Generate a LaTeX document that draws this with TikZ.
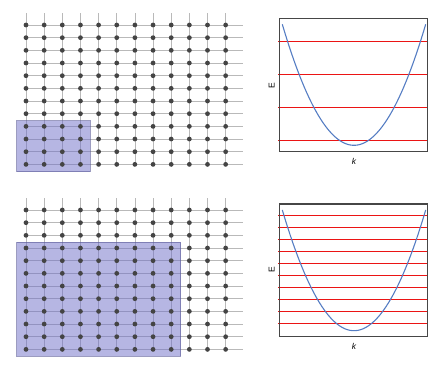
\documentclass[tikz,border=0pt]{standalone}
\usepackage{fontspec}
\setmainfont{Liberation Sans}
\definecolor{gridline}{RGB}{185,185,185}
\definecolor{dotcol}{RGB}{68,68,68}
\definecolor{boxfill}{RGB}{110,110,200}
\definecolor{boxedge}{RGB}{90,90,150}
\definecolor{curve}{RGB}{85,125,195}
\definecolor{level}{RGB}{235,20,20}
\definecolor{frame}{RGB}{70,70,70}
\begin{document}
\begin{tikzpicture}[x=1pt,y=-1pt,
  gridln/.style={draw=gridline,line width=0.8pt},
  site/.style={fill=dotcol},
  region/.style={fill=boxfill,fill opacity=0.5,draw=boxedge,draw opacity=0.6,line width=0.8pt},
  plotframe/.style={draw=frame,line width=1.4pt},
  levelln/.style={draw=level,line width=1pt},
  band/.style={draw=curve,line width=1.1pt},
  axlabel/.style={font=\fontsize{8.5}{10}\selectfont,inner sep=0pt}]
\useasboundingbox (0,0) rectangle (429,370);
% ---------- top lattice ----------
\foreach \j in {0,...,11}{
  \draw[gridln] (26,{25+12.67*\j}) -- (243,{25+12.67*\j});}
\foreach \i in {0,...,11}{
  \draw[gridln] ({26+18.15*\i},13) -- ({26+18.15*\i},164.4);}
\path[region] (16.7,120.5) rectangle (90,171.5);
\foreach \i in {0,...,11}{\foreach \j in {0,...,11}{
  \fill[site] ({26+18.15*\i},{25+12.67*\j}) circle (2.4);}}
% ---------- bottom lattice ----------
\foreach \j in {0,...,11}{
  \draw[gridln] (26,{210+12.67*\j}) -- (243,{210+12.67*\j});}
\foreach \i in {0,...,11}{
  \draw[gridln] ({26+18.15*\i},198) -- ({26+18.15*\i},349.4);}
\path[region] (16.7,242) rectangle (180.7,356);
\foreach \i in {0,...,11}{\foreach \j in {0,...,11}{
  \fill[site] ({26+18.15*\i},{210+12.67*\j}) circle (2.4);}}
% ---------- top plot ----------
\foreach \y in {41.7,74.3,107.3,140.3}{
  \draw[levelln] (278.3,\y) -- (427.7,\y);}
\draw[band] plot[domain=282.3:425.7,samples=80,smooth] (\x,{145.3-0.02354*(\x-354)*(\x-354)});
\draw[plotframe] (279.3,18.3) rectangle (427.7,151.7);
\node[axlabel,rotate=90] (E1) at (271.7,86) {E};
\node[axlabel] (k1) at (354,161.3) {\itshape k};
% ---------- bottom plot ----------
\foreach \j in {0,...,9}{
  \draw[levelln] (278.3,{215+12.04*\j}) -- (427.7,{215+12.04*\j});}
\draw[band] plot[domain=282.3:425.7,samples=80,smooth] (\x,{330.7-0.02348*(\x-354)*(\x-354)});
\draw[plotframe] (279.3,204) rectangle (427.7,336.7);
\node[axlabel,rotate=90] (E2) at (271.7,270) {E};
\node[axlabel] (k2) at (354,346) {\itshape k};
\end{tikzpicture}
\end{document}
